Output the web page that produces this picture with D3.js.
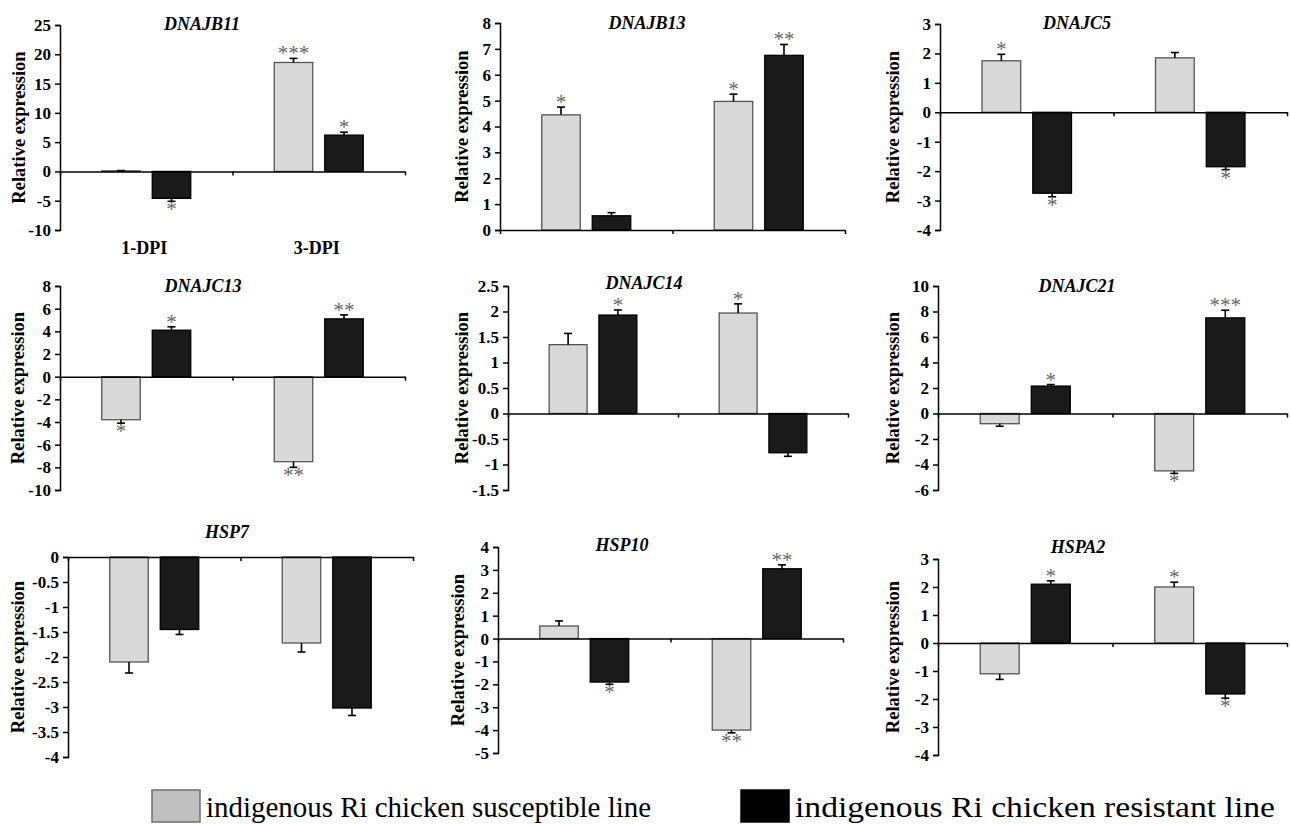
<!DOCTYPE html>
<html>
<head>
<meta charset="utf-8">
<script src="https://cdn.jsdelivr.net/npm/d3@7"></script>
<style>
  html, body { margin: 0; padding: 0; background: #fff; }
  svg { display: block; }
</style>
</head>
<body>
<svg id="chart" width="1290" height="825"></svg>
<script>
// ---------------- data ----------------
const genes = ["DNAJB11", "DNAJB13", "DNAJC5", "DNAJC13", "DNAJC14", "DNAJC21", "HSP7", "HSP10", "HSPA2"];
const categories = ["1-DPI", "3-DPI"];
const seriesNames = ["indigenous Ri chicken susceptible line", "indigenous Ri chicken resistant line"];

// relative expression, [1-DPI, 3-DPI] for each gene
const susceptibleMean = [[0.1, 18.6], [4.45, 4.97], [1.75, 1.85], [-3.8, -7.5], [1.35, 1.97], [-0.8, -4.5], [-2.1, -1.72], [0.55, -4.0], [-1.1, 2.0]];
const susceptibleErr  = [[0.05, 0.7], [0.3, 0.28], [0.22, 0.18], [0.3, 0.5], [0.22, 0.18], [0.2, 0.2], [0.22, 0.18], [0.22, 0.12], [0.2, 0.17]];
const resistantMean   = [[-4.6, 6.2], [0.55, 6.75], [-2.75, -1.85], [4.1, 5.1], [1.93, -0.77], [2.15, 7.5], [-1.45, -3.02], [-1.9, 3.05], [2.1, -1.82]];
const resistantErr    = [[0.5, 0.5], [0.12, 0.42], [0.12, 0.1], [0.3, 0.35], [0.1, 0.07], [0.12, 0.6], [0.1, 0.15], [0.1, 0.17], [0.12, 0.15]];
const susceptibleSig  = [["", "***"], ["*", "*"], ["*", ""], ["*", "**"], ["", "*"], ["", "*"], ["", ""], ["", "**"], ["", "*"]];
const resistantSig    = [["*", "*"], ["", "**"], ["*", "*"], ["*", "**"], ["*", ""], ["*", "***"], ["", ""], ["*", "**"], ["*", "*"]];

// y axis tick values per gene
const yTicks = [
  [-10, -5, 0, 5, 10, 15, 20, 25],
  [0, 1, 2, 3, 4, 5, 6, 7, 8],
  [-4, -3, -2, -1, 0, 1, 2, 3],
  [-10, -8, -6, -4, -2, 0, 2, 4, 6, 8],
  [-1.5, -1, -0.5, 0, 0.5, 1, 1.5, 2, 2.5],
  [-6, -4, -2, 0, 2, 4, 6, 8, 10],
  [-4, -3.5, -3, -2.5, -2, -1.5, -1, -0.5, 0],
  [-5, -4, -3, -2, -1, 0, 1, 2, 3, 4],
  [-4, -3, -2, -1, 0, 1, 2, 3]
];

// ---------------- layout ----------------
const layout = [
  {ax: 60,  right: 405,  top: 25,  bot: 230, tx: 202,  ty: 24,  lx: 19},
  {ax: 500, right: 845,  top: 23,  bot: 230, tx: 647,  ty: 23,  lx: 462},
  {ax: 940, right: 1287, top: 24,  bot: 230, tx: 1077, ty: 23,  lx: 893},
  {ax: 60,  right: 405,  top: 286, bot: 490, tx: 203,  ty: 286, lx: 18},
  {ax: 508, right: 848,  top: 286, bot: 490, tx: 644,  ty: 283, lx: 462},
  {ax: 938, right: 1287, top: 286, bot: 490, tx: 1077, ty: 286, lx: 893},
  {ax: 68,  right: 413,  top: 557, bot: 757, tx: 227,  ty: 532, lx: 18},
  {ax: 498, right: 843,  top: 547, bot: 753, tx: 622,  ty: 545, lx: 458},
  {ax: 938, right: 1287, top: 559, bot: 755, tx: 1078, ty: 547, lx: 893}
];

const FONT = "'Liberation Serif', 'Times New Roman', serif";
const fillColors = ["#d9d9d9", "#1a1a1a"];
const strokeColors = ["#555555", "#000000"];
const starColor = "#666666";
const fmt = d => String(Math.round(d * 10) / 10);

const svg = d3.select("#chart");

genes.forEach((gene, gi) => {
  const L = layout[gi];
  const ticks = yTicks[gi];
  const y = d3.scaleLinear().domain([d3.min(ticks), d3.max(ticks)]).range([L.bot, L.top]);
  const x0 = d3.scaleBand().domain(categories).range([L.ax, L.right]).paddingInner(0).paddingOuter(0);
  const x1 = d3.scaleBand().domain([0, 1]).range([0, x0.bandwidth()]).paddingInner(0.2376).paddingOuter(0.827);

  const g = svg.append("g");

  const rows = [];
  categories.forEach((c, ci) => {
    rows.push({c, s: 0, v: susceptibleMean[gi][ci], e: susceptibleErr[gi][ci], sig: susceptibleSig[gi][ci]});
    rows.push({c, s: 1, v: resistantMean[gi][ci], e: resistantErr[gi][ci], sig: resistantSig[gi][ci]});
  });

  // bars
  g.selectAll("rect.bar").data(rows).enter().append("rect")
    .attr("class", "bar")
    .attr("x", d => x0(d.c) + x1(d.s))
    .attr("width", x1.bandwidth())
    .attr("y", d => y(Math.max(0, d.v)))
    .attr("height", d => Math.abs(y(d.v) - y(0)))
    .attr("fill", d => fillColors[d.s])
    .attr("stroke", d => strokeColors[d.s])
    .attr("stroke-width", 1.3);

  // error bars (one-sided, outward)
  const eb = g.selectAll("g.err").data(rows).enter().append("g").attr("class", "err");
  const cx = d => x0(d.c) + x1(d.s) + x1.bandwidth() / 2;
  const tip = d => d.v >= 0 ? d.v + d.e : d.v - d.e;
  eb.append("line")
    .attr("x1", cx).attr("x2", cx)
    .attr("y1", d => y(d.v)).attr("y2", d => y(tip(d)))
    .attr("stroke", "#000").attr("stroke-width", 1.6);
  eb.append("line")
    .attr("x1", d => cx(d) - 4).attr("x2", d => cx(d) + 4)
    .attr("y1", d => y(tip(d))).attr("y2", d => y(tip(d)))
    .attr("stroke", "#000").attr("stroke-width", 1.6);

  // significance stars
  g.selectAll("text.sig").data(rows.filter(d => d.sig)).enter().append("text")
    .attr("class", "sig")
    .attr("x", cx)
    .attr("y", d => d.v >= 0 ? y(tip(d)) + 2 : y(tip(d)) + 15)
    .attr("text-anchor", "middle")
    .attr("font-family", FONT)
    .attr("font-size", 21)
    .attr("fill", starColor)
    .text(d => d.sig);

  // y axis
  const yAxis = d3.axisLeft(y).tickValues(ticks).tickFormat(fmt).tickSize(5).tickPadding(4);
  const ya = g.append("g").attr("transform", `translate(${L.ax},0)`).call(yAxis);
  ya.attr("font-family", FONT);
  ya.select(".domain").attr("stroke", "#000").attr("stroke-width", 1.5);
  ya.selectAll(".tick line").attr("stroke", "#000").attr("stroke-width", 1.5);
  ya.selectAll(".tick text")
    .attr("font-family", FONT).attr("font-size", 17).attr("font-weight", "bold").attr("fill", "#000");

  // x axis at zero, ticks at category boundaries
  const xb = d3.scaleLinear().domain([0, 2]).range([L.ax, L.right]);
  const xAxis = d3.axisBottom(xb).tickValues([0, 1, 2]).tickFormat("").tickSize(4).tickSizeOuter(0);
  const xa = g.append("g").attr("transform", `translate(0,${y(0)})`).call(xAxis);
  xa.select(".domain").attr("stroke", "#000").attr("stroke-width", 1.5);
  xa.selectAll(".tick line").attr("stroke", "#000").attr("stroke-width", 1.5);

  // category labels only in first panel
  if (gi === 0) {
    g.selectAll("text.cat").data(categories).enter().append("text")
      .attr("x", d => x0(d) + x0.bandwidth() / 2 - 2)
      .attr("y", 254)
      .attr("text-anchor", "middle")
      .attr("font-family", FONT).attr("font-size", 18).attr("font-weight", "bold")
      .text(d => d);
  }

  // title
  g.append("text")
    .attr("x", L.tx).attr("y", L.ty + 6)
    .attr("text-anchor", "middle")
    .attr("font-family", FONT).attr("font-size", 18)
    .attr("font-weight", "bold").attr("font-style", "italic")
    .text(gene);

  // y label
  g.append("text")
    .attr("transform", `translate(${L.lx + 6},${(L.top + L.bot) / 2}) rotate(-90)`)
    .attr("text-anchor", "middle")
    .attr("font-family", FONT).attr("font-size", 18.5).attr("font-weight", "bold")
    .text("Relative expression");
});

// legend
const legendX = [152, 741];
const legendTextW = [445, 480];
const lg = svg.append("g");
seriesNames.forEach((name, i) => {
  lg.append("rect")
    .attr("x", legendX[i]).attr("y", 790).attr("width", 48).attr("height", 32)
    .attr("fill", i === 0 ? "#c0c0c0" : "#000")
    .attr("stroke", i === 0 ? "#6e6e6e" : "#000").attr("stroke-width", 1.5);
  lg.append("text")
    .attr("x", legendX[i] + 54).attr("y", 817)
    .attr("font-family", FONT).attr("font-size", 29)
    .attr("textLength", legendTextW[i]).attr("lengthAdjust", "spacingAndGlyphs")
    .text(name);
});
</script>
</body>
</html>
